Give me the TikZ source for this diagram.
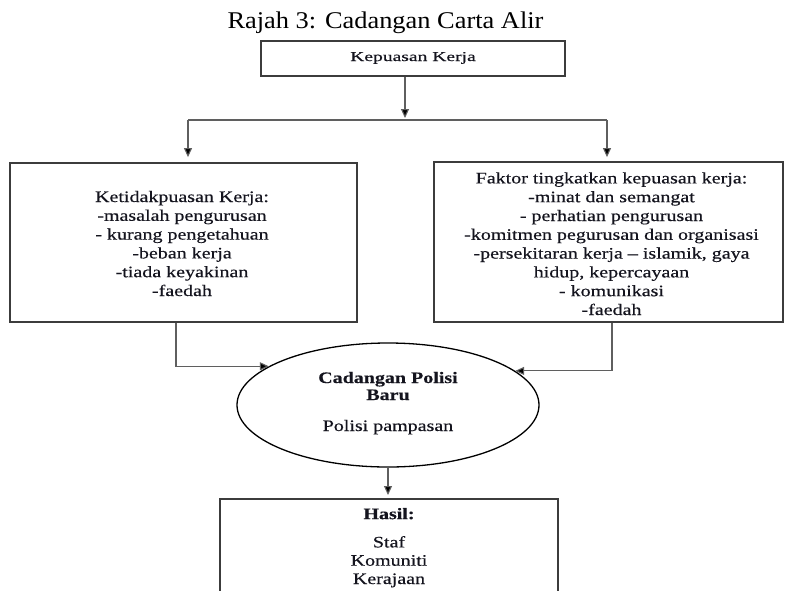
\documentclass[tikz,border=0pt]{standalone}
\usepackage{fontspec}
\setmainfont{Liberation Serif}
\newfontfamily\boxfont{Liberation Serif}[FakeStretch=1.25,FakeBold=0.35,Ligatures=TeX]
\newfontfamily\topfont{Liberation Serif}[FakeStretch=1.45,FakeBold=0.35,Ligatures=TeX]
\newfontfamily\titlefont{Liberation Serif}[FakeStretch=1.1,Ligatures=TeX]
\usetikzlibrary{arrows.meta,shapes.geometric}
\definecolor{boxgray}{RGB}{60,60,60}
\definecolor{linegray}{RGB}{95,95,95}
\definecolor{txtcol}{RGB}{20,20,30}
\tikzset{
  boxline/.style={draw=boxgray, line width=1.8pt, inner sep=0pt},
  txt/.style={inner sep=0pt, align=center, text=txtcol, font=\boxfont\fontsize{16}{18.8}\selectfont},
  conn/.style={draw=linegray, line width=1.1pt},
  arr/.style={conn, -{Triangle[width=8pt,length=9pt,fill=black]}},
}
\begin{document}
\begin{tikzpicture}[x=1pt,y=-1pt]
\useasboundingbox[fill=white] (0,0) rectangle (785,590);
% title
\node[inner sep=0pt, anchor=base, font=\titlefont\fontsize{24}{28}\selectfont] (title) at (385.5,28) {Rajah 3: Cadangan Carta Alir};
% top box
\node[boxline, minimum width=304pt, minimum height=35pt] (tbox) at (413,58.5) {};
\node[inner sep=0pt, anchor=base, text=txtcol, font=\topfont\fontsize{13.5}{16}\selectfont] (ttext) at (413,61) {Kepuasan Kerja};
% split
\coordinate (split) at (405,120);
\coordinate (sl) at (188,120);
\coordinate (sr) at (607,120);
% left box
\node[boxline, minimum width=347pt, minimum height=159pt] (lbox) at (183.5,242.5) {};
\node[txt, anchor=base] (ltext) at (182,296) {Ketidakpuasan Kerja:\\-masalah pengurusan\\- kurang pengetahuan\\-beban kerja\\-tiada keyakinan\\-faedah};
% right box
\node[boxline, minimum width=349pt, minimum height=160pt] (rbox) at (608.5,242) {};
\node[txt, anchor=base] (rtext) at (611.5,315) {Faktor tingkatkan kepuasan kerja:\\-minat dan semangat\\- perhatian pengurusan\\-komitmen pegurusan dan organisasi\\-persekitaran kerja \textendash\ islamik, gaya\\hidup, kepercayaan\\- komunikasi\\-faedah};
% ellipse
\node[ellipse, draw=black, line width=1.3pt, minimum width=302pt, minimum height=124pt, inner sep=0pt] (ell) at (388,405) {};
\node[txt, anchor=base, font=\boxfont\fontsize{16}{17}\selectfont] (etext) at (388,431) {\textbf{Cadangan Polisi}\\\textbf{Baru}\\[14pt]Polisi pampasan};
% bottom box
\node[boxline, minimum width=338pt, minimum height=110pt, anchor=north] (hbox) at (389,498) {};
\node[txt, anchor=base, font=\boxfont\fontsize{16}{18.3}\selectfont] (htext) at (389,584) {\textbf{Hasil:}\\[10pt]Staf\\Komuniti\\Kerajaan};
% helper x positions
\coordinate (lx) at (176,0);
\coordinate (rx) at (612,0);
% connectors
\draw[arr, shorten >=2pt] (tbox.south -| split) -- (split);
\draw[conn] (sl) -- (sr);
\draw[arr, shorten >=5pt] (sl) -- (sl |- lbox.north);
\draw[arr, shorten >=4pt] (sr) -- (sr |- rbox.north);
\draw[arr] (lbox.south -| lx) |- (ell.162.3);
\draw[arr] (rbox.south -| rx) |- (ell.15.6);
\draw[arr, shorten >=3pt] (ell.south) -- (hbox.north -| ell.south);
\end{tikzpicture}
\end{document}
